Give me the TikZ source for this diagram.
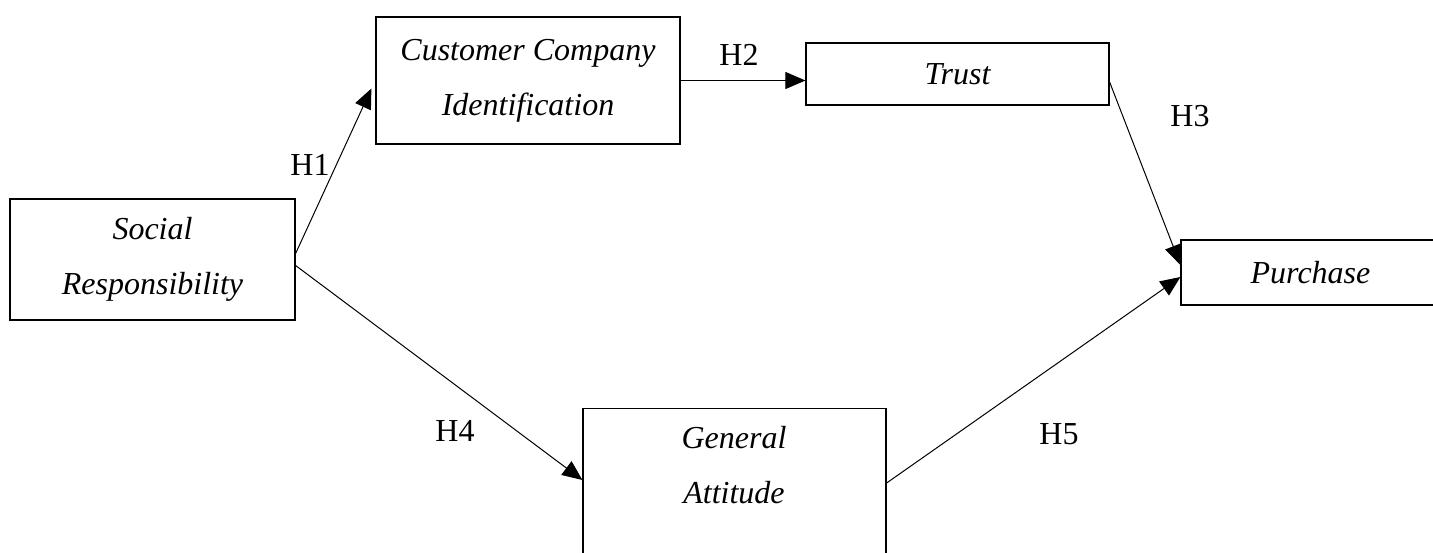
\documentclass[tikz,border=0pt]{standalone}
\usepackage{fontspec}
\setmainfont{Liberation Serif}
\usetikzlibrary{positioning,calc,arrows.meta}

\begin{document}
\begin{tikzpicture}[x=0.5pt, y=-0.5pt,
        box/.style={draw, line width=0.6pt, rectangle, align=center, inner sep=0pt,
            font=\fontsize{16}{27.5}\selectfont\itshape},
        hyp/.style={font=\fontsize{16}{18}\selectfont},
        link/.style={line width=0.5pt, -{Triangle[length=10pt,width=8.5pt]}}]
        \useasboundingbox (0,0) rectangle (1433,552);
        \clip (0,0) rectangle (1433,552);
        \fill [white] (0,0) rectangle (1433,552);

        % constructs
        \node [box, minimum width=142.5pt, minimum height=60.5pt] (social) at (152.5, 259.5) {Social\\Responsibility};
        \node [box, minimum width=152pt, minimum height=63.5pt] (ident) at (528, 80.5) {Customer Company\\Identification};
        \node [box, minimum width=151.5pt, minimum height=31pt] (trust) at (957.5, 74) {Trust};
        \node [box, minimum width=129.5pt, minimum height=32.5pt] (purchase) at (1310.5, 272.5) {Purchase};
        \node [box, minimum width=151.5pt, minimum height=100pt, anchor=north] (attitude) at (734.5, 408) {};
        \node [box, draw=none] (attitudetext) at (734, 465.5) {General\\Attitude};

        % hypotheses
        \draw [link] ([yshift=3pt]social.east) -- ([xshift=-2pt,yshift=-4pt]ident.west);
        \draw [link] (ident.east) -- (ident.east -| trust.west);
        \draw [link] ([yshift=-4pt]trust.east) -- ([yshift=3.75pt]purchase.west);
        \draw [link] ([yshift=-3pt]social.east) -- ([yshift=-36pt]attitude.north west);
        \draw [link] ([yshift=-37.5pt]attitude.north east) -- ([yshift=-2.25pt]purchase.west);

        \node [hyp] (h1) at (310, 165) {H1};
        \node [hyp] (h2) at (739, 55) {H2};
        \node [hyp] (h3) at (1190, 116) {H3};
        \node [hyp] (h4) at (455, 431) {H4};
        \node [hyp] (h5) at (1059, 434) {H5};
    \end{tikzpicture}
\end{document}
